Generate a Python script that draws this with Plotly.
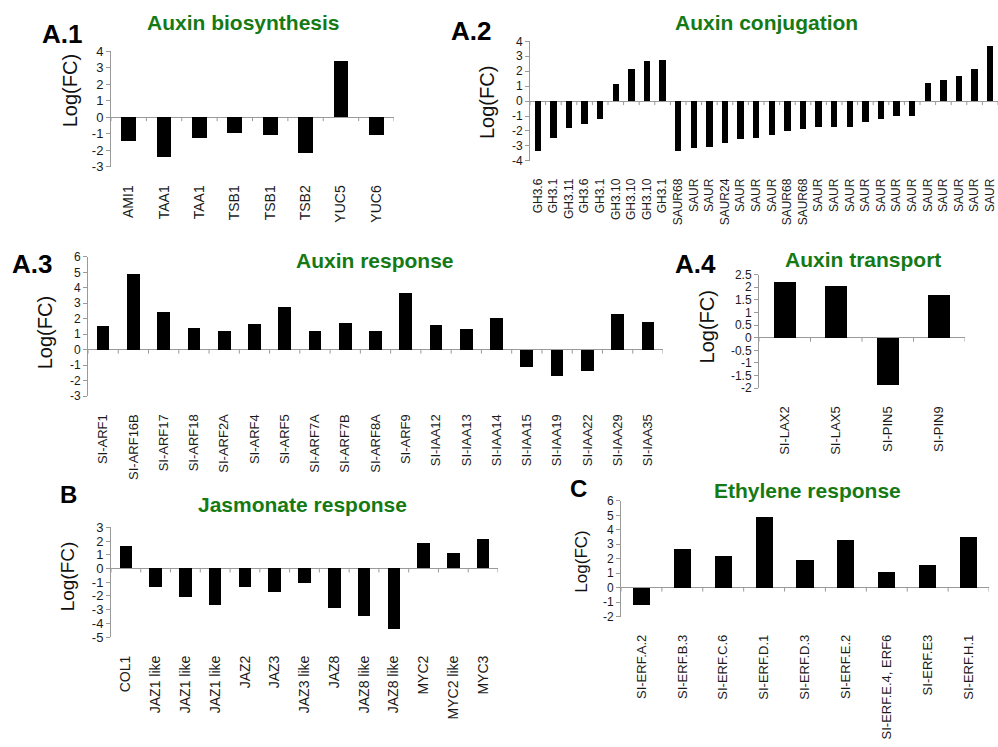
import plotly.graph_objects as go

W, H = 998, 747

# ---- data (log fold change) ----
a1_genes = ["AMI1", "TAA1", "TAA1", "TSB1", "TSB1", "TSB2", "YUC5", "YUC6"]
a1_fc = [-1.45, -2.4, -1.25, -0.95, -1.1, -2.15, 3.4, -1.1]

a2_genes = ["GH3.6", "GH3.1", "GH3.11", "GH3.6", "GH3.1", "GH3.10", "GH3.10", "GH3.10", "GH3.1",
            "SAUR68", "SAUR", "SAUR", "SAUR24", "SAUR", "SAUR", "SAUR", "SAUR68", "SAUR68",
            "SAUR", "SAUR", "SAUR", "SAUR", "SAUR", "SAUR", "SAUR",
            "SAUR", "SAUR", "SAUR", "SAUR", "SAUR"]
a2_fc = [-3.33, -2.46, -1.8, -1.58, -1.2, 1.1, 2.1, 2.63, 2.74,
         -3.38, -3.16, -3.07, -2.8, -2.59, -2.52, -2.3, -2.02, -1.9,
         -1.75, -1.73, -1.73, -1.43, -1.2, -1.05, -0.99,
         1.16, 1.38, 1.64, 2.1, 3.64]

a3_genes = ["SI-ARF1", "SI-ARF16B", "SI-ARF17", "SI-ARF18", "SI-ARF2A", "SI-ARF4", "SI-ARF5",
            "SI-ARF7A", "SI-ARF7B", "SI-ARF8A", "SI-ARF9", "SI-IAA12", "SI-IAA13", "SI-IAA14",
            "SI-IAA15", "SI-IAA19", "SI-IAA22", "SI-IAA29", "SI-IAA35"]
a3_fc = [1.51, 4.87, 2.44, 1.41, 1.2, 1.66, 2.77, 1.24, 1.74, 1.2, 3.66, 1.61, 1.37, 2.07,
         -1.1, -1.68, -1.35, 2.3, 1.82]

a4_genes = ["SI-LAX2", "SI-LAX5", "SI-PIN5", "SI-PIN9"]
a4_fc = [2.24, 2.05, -1.84, 1.7]

b_genes = ["COL1", "JAZ1 like", "JAZ1 like", "JAZ1 like", "JAZ2", "JAZ3", "JAZ3 like", "JAZ8",
           "JAZ8 like", "JAZ8 like", "MYC2", "MYC2 like", "MYC3"]
b_fc = [1.6, -1.36, -2.08, -2.7, -1.38, -1.72, -1.05, -2.89, -3.51, -4.42, 1.86, 1.1, 2.15]

c_genes = ["SI-ERF.A.2", "SI-ERF.B.3", "SI-ERF.C.6", "SI-ERF.D.1", "SI-ERF.D.3", "SI-ERF.E.2",
           "SI-ERF.E.4, ERF6", "SI-ERF.E3", "SI-ERF.H.1"]
c_fc = [-1.17, 2.69, 2.21, 4.92, 1.94, 3.27, 1.1, 1.57, 3.49]

# axis ranges / tick steps
a1_ticks = [-3, -2, -1, 0, 1, 2, 3, 4]
a2_ticks = [-4, -3, -2, -1, 0, 1, 2, 3, 4]
a3_ticks = [-3, -2, -1, 0, 1, 2, 3, 4, 5, 6]
a4_ticks = [-2, -1.5, -1, -0.5, 0, 0.5, 1, 1.5, 2, 2.5]
b_ticks = [-5, -4, -3, -2, -1, 0, 1, 2, 3]
c_ticks = [-2, -1, 0, 1, 2, 3, 4, 5, 6]

# ---- layout of each panel (pixel boxes on the 998x747 page) ----
panels = [
    dict(genes=a1_genes, fc=a1_fc, ticks=a1_ticks, letter="A.1", title="Auxin biosynthesis",
         box=(111, 394, 45, 163), tfs=13, cfs=14, ylab=(70, 86, 20), let=(62, 28, 26), tit=(243, 16)),
    dict(genes=a2_genes, fc=a2_fc, ticks=a2_ticks, letter="A.2", title="Auxin conjugation",
         box=(530, 998, 35, 157), tfs=12, cfs=12, ylab=(487, 98, 20), let=(471, 25, 26), tit=(766, 16)),
    dict(genes=a3_genes, fc=a3_fc, ticks=a3_ticks, letter="A.3", title="Auxin response",
         box=(88, 663, 255, 397), tfs=12, cfs=13, ylab=(45, 333, 20), let=(32, 262, 26), tit=(375, 259)),
    dict(genes=a4_genes, fc=a4_fc, ticks=a4_ticks, letter="A.4", title="Auxin transport",
         box=(759, 965, 273, 389), tfs=12, cfs=13, ylab=(707, 327, 20), let=(695, 262, 26), tit=(863, 258)),
    dict(genes=b_genes, fc=b_fc, ticks=b_ticks, letter="B", title="Jasmonate response",
         box=(111, 498, 531, 643), tfs=13, cfs=14, ylab=(67, 581, 19), let=(68, 497, 24), tit=(302, 508)),
    dict(genes=c_genes, fc=c_fc, ticks=c_ticks, letter="C", title="Ethylene response",
         box=(621, 989, 504, 622), tfs=12, cfs=13, ylab=(582, 566, 17), let=(578, 491, 24), tit=(807, 493)),
]

FONT = "Liberation Sans, Arial, sans-serif"
GREEN = "#157a15"
GREY = "#9a9a9a"


def px(v):
    return v / W


def py(v):
    return 1 - v / H


fig = go.Figure()
layout = dict(width=W, height=H, autosize=False, margin=dict(l=0, r=0, t=0, b=0),
              plot_bgcolor="white", paper_bgcolor="white", showlegend=False,
              font=dict(family=FONT, color="#1a1a1a"), bargap=0)
annotations = []
shapes = []

for i, p in enumerate(panels, start=1):
    xa = "x" if i == 1 else f"x{i}"
    ya = "y" if i == 1 else f"y{i}"
    n = len(p["genes"])
    x0, x1, ytop, ybot = p["box"]

    fig.add_trace(go.Bar(x=list(range(n)), y=p["fc"], width=0.42, xaxis=xa, yaxis=ya,
                         marker=dict(color="black", line=dict(width=0))))

    layout["xaxis" if i == 1 else f"xaxis{i}"] = dict(
        domain=[px(x0), px(x1)], anchor=ya, range=[-0.5, n - 0.5],
        tickvals=list(range(n)), ticktext=p["genes"], tickangle=-90,
        ticks="outside", ticklen=12, tickcolor="rgba(0,0,0,0)",
        showline=False, showgrid=False, zeroline=False,
        tickfont=dict(size=p["cfs"], family=FONT, color="#1a1a1a"))
    layout["yaxis" if i == 1 else f"yaxis{i}"] = dict(
        domain=[py(ybot), py(ytop)], anchor=xa, range=[p["ticks"][0], p["ticks"][-1]],
        tickvals=p["ticks"], ticktext=[f"{t:g}" for t in p["ticks"]],
        ticks="outside", ticklen=4, tickcolor=GREY, showline=True, linecolor=GREY,
        linewidth=1, showgrid=False, zeroline=True, zerolinecolor=GREY, zerolinewidth=1,
        tickfont=dict(size=p["tfs"], family=FONT, color="#1a1a1a"))

    # small category separators hanging below the zero line
    for k in range(n + 1):
        shapes.append(dict(type="line", xref=xa, yref=ya, x0=k - 0.5, x1=k - 0.5,
                           ysizemode="pixel", yanchor=0, y0=0, y1=-4,
                           line=dict(color=GREY, width=1)))

    lx, ly, lfs = p["ylab"]
    annotations.append(dict(text="Log(FC)", x=px(lx), y=py(ly), xref="paper", yref="paper",
                            textangle=-90, showarrow=False, xanchor="center", yanchor="middle",
                            font=dict(size=lfs, family=FONT, color="#111111")))
    cx, cy, cfs = p["let"]
    annotations.append(dict(text=f"<b>{p['letter']}</b>", x=px(cx), y=py(cy), xref="paper",
                            yref="paper", showarrow=False, xanchor="center", yanchor="middle",
                            font=dict(size=cfs, family=FONT, color="black")))
    tx, ty = p["tit"]
    annotations.append(dict(text=f"<b>{p['title']}</b>", x=px(tx), y=py(ty), xref="paper",
                            yref="paper", showarrow=False, xanchor="center", yanchor="middle",
                            font=dict(size=21, family=FONT, color=GREEN)))

layout["annotations"] = annotations
layout["shapes"] = shapes
fig.update_layout(**layout)

# drop the default page margin so the figure sits at the window's top-left corner
fig.write_html("out.html", config={"displayModeBar": False},
               post_script="document.body.style.margin='0';document.body.style.overflow='hidden';")
